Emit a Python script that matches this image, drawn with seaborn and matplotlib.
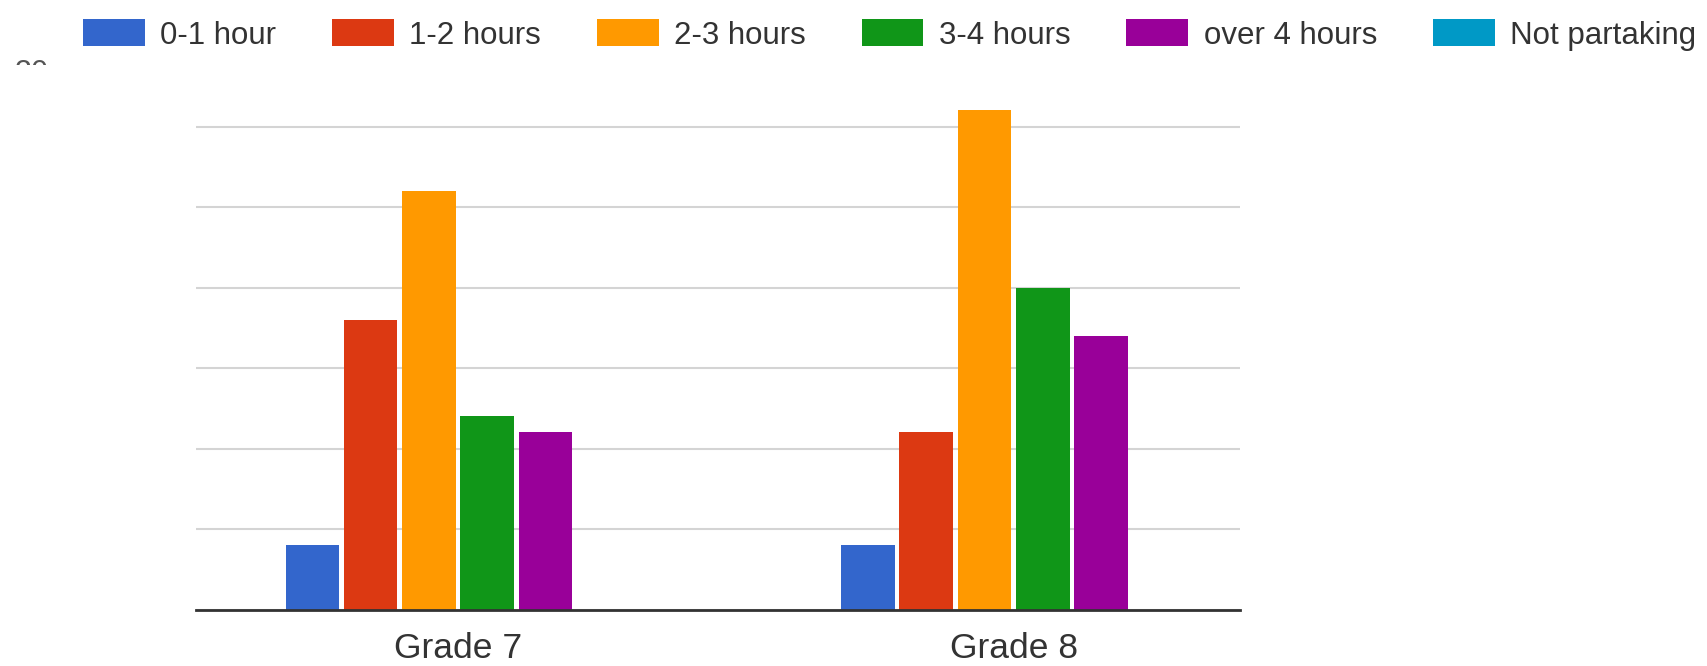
import matplotlib
matplotlib.use("Agg")
import matplotlib.pyplot as plt
import seaborn as sns
import pandas as pd
from matplotlib.patches import Patch
from matplotlib.transforms import Bbox

# ---- data ----
grades = ["Grade 7", "Grade 8"]
categories = ["0-1 hour", "1-2 hours", "2-3 hours", "3-4 hours", "over 4 hours", "Not partaking"]
grade7 = [4, 18, 26, 12, 11, 0]
grade8 = [4, 11, 31, 20, 17, 0]
colors = ["#3366CC", "#DC3912", "#FF9900", "#109618", "#990099", "#0099C6"]
y_ticks = [0, 5, 10, 15, 20, 25, 30]

rows = []
for g, vals in zip(grades, [grade7, grade8]):
    for c, v in zip(categories, vals):
        rows.append({"grade": g, "time": c, "count": v})
df = pd.DataFrame(rows)

sns.set_theme(style="white")
plt.rcParams["font.family"] = ["Liberation Sans", "DejaVu Sans"]

W, H = 1708, 666
fig = plt.figure(figsize=(W / 100, H / 100), dpi=100)
ax = fig.add_axes([196 / W, 1 - 609.5 / H, (1240 - 196) / W, (609.5 - 78.2) / H])

sns.barplot(data=df, x="grade", y="count", hue="time", order=grades,
            hue_order=categories, palette=colors, width=0.629, gap=0.08,
            linewidth=0, saturation=1, legend=False, errorbar=None, ax=ax)

ax.set_xlim(-0.4716, 1.4075)
ax.set_ylim(0, 33)
ax.set_yticks(y_ticks)
ax.yaxis.grid(True, color="#d4d4d4", linewidth=1.5)
ax.xaxis.grid(False)
ax.set_axisbelow(True)
ax.tick_params(axis="y", labelleft=False, length=0)
ax.tick_params(axis="x", length=0, labelsize=25.5, pad=16, colors="#333333")
for s in ["top", "right", "left"]:
    ax.spines[s].set_visible(False)
ax.spines["bottom"].set_color("#333333")
ax.spines["bottom"].set_linewidth(2)
ax.set_xlabel("")
ax.set_ylabel("")

handles = [Patch(facecolor=c, edgecolor="none") for c in colors]
fig.legend(handles, categories, loc="center left",
           bbox_to_anchor=(82.7 / W, 1 - 35 / H), ncol=6, frameon=False,
           fontsize=22.5, handlelength=1.98, handleheight=0.93,
           handletextpad=0.5, columnspacing=1.78, borderpad=0,
           borderaxespad=0, labelcolor="#333333")

# partially hidden axis label fragment at top-left (cropped in the original)
t = fig.text(15 / W, 1 - 59 / H, "30", ha="left", va="top", fontsize=22, color="#555555")
t.set_clip_box(Bbox.from_extents(0, H - 65, 200, H))
t.set_clip_on(True)

fig.savefig("out.png", dpi=100)
